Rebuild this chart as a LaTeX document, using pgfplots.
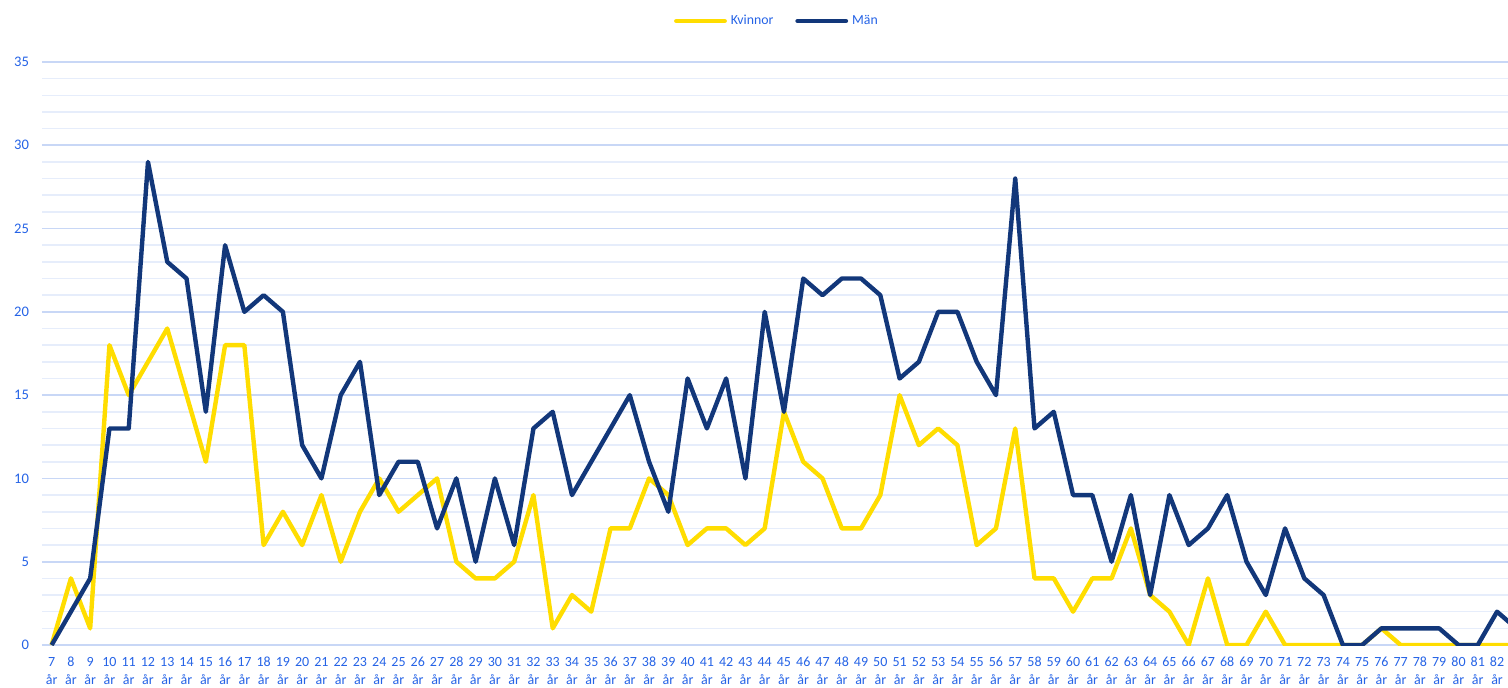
\documentclass[border=0pt]{standalone}
\usepackage{pgfplots}
\pgfplotsset{compat=1.18}
\usepackage{fontspec}
\setmainfont{Carlito}
\definecolor{kv}{HTML}{FFDD00}
\definecolor{man}{HTML}{12377A}
\definecolor{lbl}{HTML}{2563E6}
\definecolor{gmaj}{HTML}{C8D7F6}
\definecolor{gmin}{HTML}{E6EDFB}
\begin{document}
\begin{tikzpicture}
\useasboundingbox (0,0) rectangle (754pt,343.5pt);
\begin{axis}[
  at={(21pt,21pt)}, anchor=south west,
  scale only axis, width=733pt, height=291.5pt,
  xmin=6.5, xmax=82.57, ymin=0, ymax=35,
  axis line style={draw=none},
  tick style={draw=none},
  /pgf/number format/assume math mode=true,
  ytick={0,5,...,35},
  minor y tick num=4,
  ymajorgrids, yminorgrids,
  major grid style={gmaj, line width=0.8pt},
  minor grid style={gmin, line width=0.8pt},
  xtick={7,...,82},
  xticklabel={\pgfmathtruncatemacro\tk{\tick}\strut\tk\\\strut år},
  xticklabel style={align=center, font=\fontsize{7pt}{9pt}\selectfont, text=lbl, yshift=-3pt, inner sep=1pt},
  yticklabel style={font=\fontsize{7.3pt}{8pt}\selectfont, text=lbl, xshift=-3pt},
  major tick length=0pt, minor tick length=0pt,
  legend columns=2,
  legend style={at={(0.502,1)}, anchor=center, yshift=20.5pt, draw=none, fill=none,
    font=\fontsize{6.9pt}{8pt}\selectfont, text=lbl,
    /tikz/every even column/.append style={column sep=9pt}},
  legend image code/.code={\draw[#1, line width=2.4pt, line cap=round] (0pt,0pt) -- (24pt,0pt);},
  legend cell align=left,
]
\addplot[kv, line width=2.2pt, line join=round] coordinates {
(7,0)(8,4)(9,1)(10,18)(11,15)(12,17)(13,19)(14,15)(15,11)(16,18)(17,18)(18,6)(19,8)(20,6)(21,9)(22,5)(23,8)(24,10)(25,8)(26,9)(27,10)(28,5)(29,4)(30,4)(31,5)(32,9)(33,1)(34,3)(35,2)(36,7)(37,7)(38,10)(39,9)(40,6)(41,7)(42,7)(43,6)(44,7)(45,14)(46,11)(47,10)(48,7)(49,7)(50,9)(51,15)(52,12)(53,13)(54,12)(55,6)(56,7)(57,13)(58,4)(59,4)(60,2)(61,4)(62,4)(63,7)(64,3)(65,2)(66,0)(67,4)(68,0)(69,0)(70,2)(71,0)(72,0)(73,0)(74,0)(75,0)(76,1)(77,0)(78,0)(79,0)(80,0)(81,0)(82,0)(83,0)
};
\addlegendentry{Kvinnor}
\addplot[man, line width=2.2pt, line join=round] coordinates {
(7,0)(8,2)(9,4)(10,13)(11,13)(12,29)(13,23)(14,22)(15,14)(16,24)(17,20)(18,21)(19,20)(20,12)(21,10)(22,15)(23,17)(24,9)(25,11)(26,11)(27,7)(28,10)(29,5)(30,10)(31,6)(32,13)(33,14)(34,9)(35,11)(36,13)(37,15)(38,11)(39,8)(40,16)(41,13)(42,16)(43,10)(44,20)(45,14)(46,22)(47,21)(48,22)(49,22)(50,21)(51,16)(52,17)(53,20)(54,20)(55,17)(56,15)(57,28)(58,13)(59,14)(60,9)(61,9)(62,5)(63,9)(64,3)(65,9)(66,6)(67,7)(68,9)(69,5)(70,3)(71,7)(72,4)(73,3)(74,0)(75,0)(76,1)(77,1)(78,1)(79,1)(80,0)(81,0)(82,2)(83,1)
};
\addlegendentry{Män}
\end{axis}
\end{tikzpicture}
\end{document}
